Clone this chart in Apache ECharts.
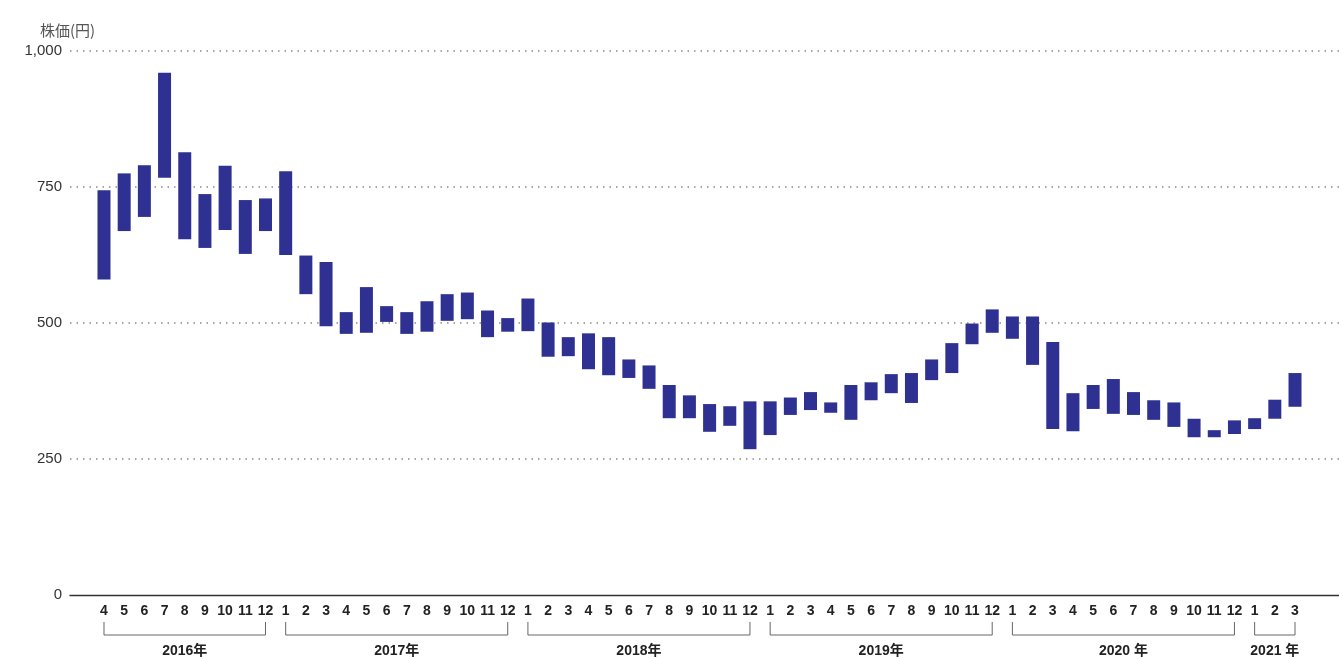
<!DOCTYPE html>
<html>
<head>
<meta charset="utf-8">
<style>
  html, body { margin: 0; padding: 0; background: #fff; }
  #chart { width: 1339px; height: 658px; }
</style>
<script src="https://cdn.jsdelivr.net/npm/echarts@6/dist/echarts.min.js"></script>
</head>
<body>
<div id="chart"></div>
<script>
// Monthly share price range (low–high), April 2016 – March 2021
const months = [
  '4','5','6','7','8','9','10','11','12',
  '1','2','3','4','5','6','7','8','9','10','11','12',
  '1','2','3','4','5','6','7','8','9','10','11','12',
  '1','2','3','4','5','6','7','8','9','10','11','12',
  '1','2','3','4','5','6','7','8','9','10','11','12',
  '1','2','3'
];
const highs = [
  744, 775, 790, 960, 814, 737, 789, 726, 729,
  779, 624, 612, 520, 566, 531, 520, 540, 553, 556, 523, 509,
  545, 501, 474, 481, 474, 433, 422, 386, 367, 351, 347, 356,
  356, 363, 373, 354, 386, 391, 406, 408, 433, 463, 499, 525,
  512, 512, 465, 371, 386, 397, 373, 358, 354, 324, 303, 321,
  325, 359, 408
];
const lows = [
  580, 669, 695, 767, 654, 638, 671, 627, 669,
  625, 553, 494, 480, 482, 502, 480, 484, 504, 507, 474, 484,
  485, 438, 439, 415, 404, 399, 379, 325, 325, 300, 311, 268,
  294, 331, 340, 335, 322, 358, 371, 353, 395, 408, 461, 482,
  471, 423, 305, 301, 342, 333, 331, 322, 309, 290, 290, 296,
  305, 324, 346
];
const years = ['2016年', '2017年', '2018年', '2019年', '2020 年', '2021 年'];
const yearSpans = [[0, 8], [9, 20], [21, 32], [33, 44], [45, 56], [57, 59]];
const yMin = 0, yMax = 1000, yStep = 250;

const BAR = '#2e3192';
const NUM_FONT = "'Liberation Sans Narrow', 'Liberation Sans', Arial, sans-serif";
const JP_FONT = "'Liberation Sans', 'Noto Sans CJK JP', sans-serif";

const chart = echarts.init(document.getElementById('chart'), null, { renderer: 'canvas' });

const gridTop = 51, gridBottom = 63;
const plotLeft = 93.9, plotRight = 33.9;

chart.setOption({
  animation: false,
  title: {
    text: '株価(円)',
    left: 35, top: 18,
    textStyle: { fontFamily: "'Noto Sans CJK JP', sans-serif", fontSize: 15, fontWeight: 'normal', color: '#555' }
  },
  grid: [
    // frame: value labels, dotted grid lines and baseline
    { left: 70, right: 0, top: gridTop, bottom: gridBottom },
    // price bars with month labels
    { left: plotLeft, right: plotRight, top: gridTop, bottom: gridBottom },
    // year brackets
    { left: plotLeft, right: plotRight, top: 620, bottom: 0 }
  ],
  xAxis: [
    {
      gridIndex: 0, type: 'value', min: 0, max: 1, z: 5,
      axisLine: { show: true, onZero: false, lineStyle: { color: '#333', width: 1.3 } },
      axisTick: { show: false }, axisLabel: { show: false }, splitLine: { show: false }
    },
    {
      gridIndex: 1, type: 'category', data: months, boundaryGap: true,
      axisLine: { show: false }, axisTick: { show: false },
      axisLabel: {
        interval: 0, margin: 9, color: '#222',
        fontFamily: NUM_FONT, fontSize: 14, fontWeight: 'bold'
      }
    },
    {
      gridIndex: 2, type: 'category', data: months, boundaryGap: true, show: false
    }
  ],
  yAxis: [
    {
      gridIndex: 0, type: 'value', min: yMin, max: yMax, interval: yStep, z: 0,
      axisLine: { show: false }, axisTick: { show: false },
      axisLabel: {
        margin: 8, color: '#333', fontFamily: NUM_FONT, fontSize: 15,
        formatter: v => v.toLocaleString('en-US')
      },
      splitLine: {
        show: true, showMinLine: false,
        lineStyle: { color: '#8a8a8a', type: [1.5, 5], width: 1.5 }
      }
    },
    { gridIndex: 1, type: 'value', min: yMin, max: yMax, show: false },
    { gridIndex: 2, type: 'value', min: 0, max: 1, show: false }
  ],
  series: [
    {
      type: 'custom',
      xAxisIndex: 1, yAxisIndex: 1,
      encode: { x: 0, y: [1, 2] },
      data: months.map((m, i) => [i, lows[i], highs[i]]),
      renderItem: (params, api) => {
        const lo = api.coord([api.value(0), api.value(1)]);
        const hi = api.coord([api.value(0), api.value(2)]);
        const w = 13;
        return {
          type: 'rect',
          shape: { x: lo[0] - w / 2, y: hi[1], width: w, height: lo[1] - hi[1] },
          style: { fill: BAR }
        };
      }
    },
    {
      type: 'custom',
      xAxisIndex: 2, yAxisIndex: 2,
      encode: { x: [0, 1] },
      data: years.map((y, k) => [yearSpans[k][0], yearSpans[k][1], y]),
      renderItem: (params, api) => {
        const a = api.coord([api.value(0), 1]);
        const b = api.coord([api.value(1), 1]);
        const top = a[1] + 2, bot = a[1] + 15;
        return {
          type: 'group',
          children: [
            {
              type: 'polyline',
              shape: { points: [[a[0], top], [a[0], bot], [b[0], bot], [b[0], top]] },
              style: { stroke: '#666', lineWidth: 1, fill: null }
            },
            {
              type: 'text',
              style: {
                text: years[params.dataIndex],
                x: (a[0] + b[0]) / 2, y: a[1] + 31,
                align: 'center', verticalAlign: 'middle',
                fill: '#222', font: "bold 14px " + JP_FONT
              }
            }
          ]
        };
      }
    }
  ]
});
</script>
</body>
</html>
